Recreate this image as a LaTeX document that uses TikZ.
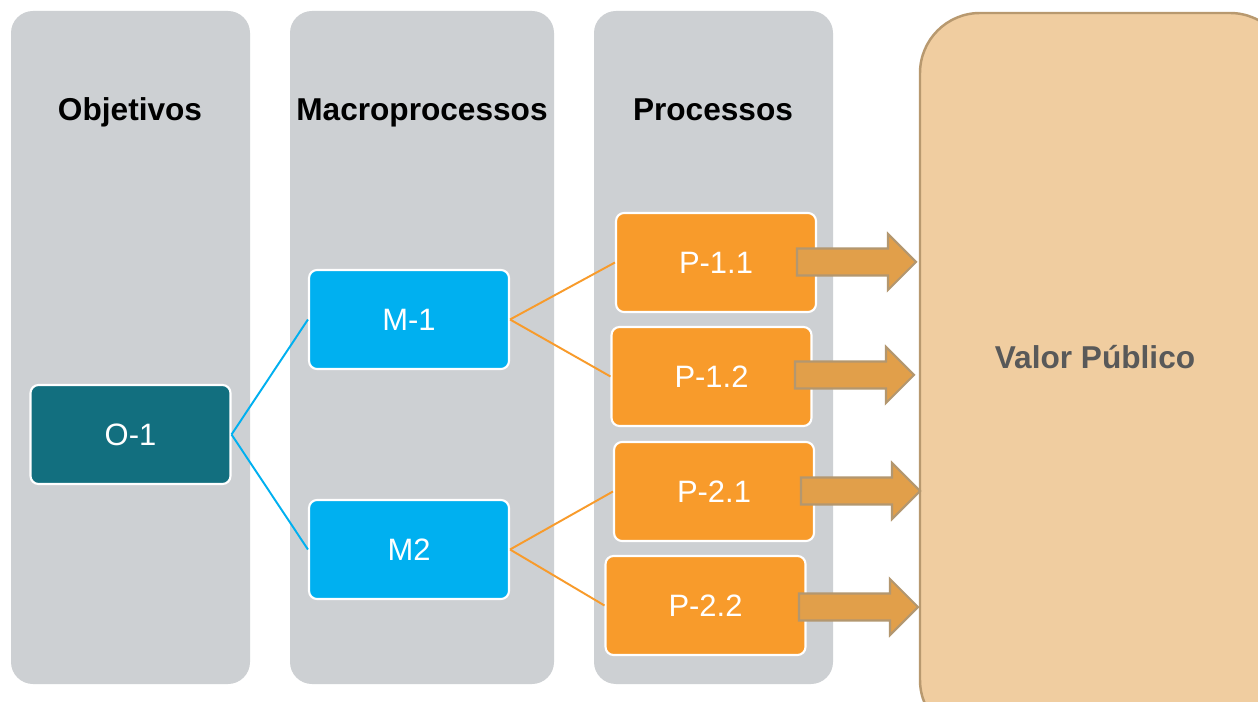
\documentclass[tikz,border=0pt]{standalone}
\usepackage{fontspec}
\setmainfont{Liberation Sans}
\usetikzlibrary{positioning}
\definecolor{ColGray}{HTML}{CDD0D3}
\definecolor{DarkTeal}{HTML}{126F7F}
\definecolor{LightBlue}{HTML}{00B0F0}
\definecolor{DarkOrange}{HTML}{F89B2B}
\definecolor{ArrowOrange}{HTML}{E19F4A}
\definecolor{ArrowBrown}{HTML}{B3976F}
\definecolor{LightTan}{HTML}{F0CDA0}
\definecolor{TanBorder}{HTML}{B8996F}
\definecolor{DarkGrayText}{HTML}{595959}
\tikzset{
  column/.style={fill=ColGray, rounded corners=0.44cm},
  header/.style={font=\fontsize{18}{20}\selectfont\bfseries, text=black, anchor=base},
  item/.style={draw=white, line width=1.2pt, rounded corners=0.16cm,
    minimum width=4cm, minimum height=1.98cm, text=white,
    font=\fontsize{17.6}{19}\selectfont},
  objbox/.style={item, fill=DarkTeal},
  macrobox/.style={item, fill=LightBlue},
  procbox/.style={item, fill=DarkOrange},
  bluelink/.style={draw=LightBlue, line width=1.1pt},
  orangelink/.style={draw=DarkOrange, line width=1.1pt},
  blockarrow/.style={fill=ArrowOrange, draw=ArrowBrown, line width=1.2pt}
}
% block arrow: start x, centre y (pixel units)
\newcommand{\valarrow}[2]{%
  \draw[blockarrow] (#1,#2-13.5) -- ++(91,0) -- ++(0,-14.5) -- (#1+119,#2)
    -- (#1+91,#2+28) -- ++(0,-14.5) -- (#1,#2+13.5) -- cycle;}

\begin{document}
\begin{tikzpicture}[x=0.02cm, y=-0.02cm]
  \clip (0,0) rectangle (1258,702);
  \fill[white] (0,0) rectangle (1258,702);

  % background columns
  \fill[column] (11,11) rectangle (250,684);
  \fill[column] (290,11) rectangle (554,684);
  \fill[column] (594,11) rectangle (833,684);
  \draw[fill=LightTan, draw=TanBorder, line width=1.4pt, rounded corners=1.2cm]
    (920,13) rectangle (1290,740);

  % headers
  \node[header] (hObj)   at (130,121) {Objetivos};
  \node[header] (hMacro) at (422,121) {Macroprocessos};
  \node[header] (hProc)  at (713,121) {Processos};
  \node[font=\fontsize{18}{20}\selectfont\bfseries, text=DarkGrayText]
    (valor) at (1095,357) {Valor Público};

  % boxes
  \node[objbox]   (O1)  at (130.5,434.5) {O-1};
  \node[macrobox] (M1)  at (409,319.5) {M-1};
  \node[macrobox] (M2)  at (409,549.5) {M2};
  \node[procbox]  (P11) at (716,262.5) {P-1.1};
  \node[procbox]  (P12) at (711.5,376.5) {P-1.2};
  \node[procbox]  (P21) at (714,491.5) {P-2.1};
  \node[procbox]  (P22) at (705.5,605.5) {P-2.2};

  % links
  \draw[bluelink] (O1.east) -- (M1.west);
  \draw[bluelink] (O1.east) -- (M2.west);
  \draw[orangelink] (M1.east) -- (P11.west);
  \draw[orangelink] (M1.east) -- (P12.west);
  \draw[orangelink] (M2.east) -- (P21.west);
  \draw[orangelink] (M2.east) -- (P22.west);

  % arrows to value
  \valarrow{797}{262}
  \valarrow{795}{375}
  \valarrow{801}{491}
  \valarrow{799}{607}
\end{tikzpicture}
\end{document}
